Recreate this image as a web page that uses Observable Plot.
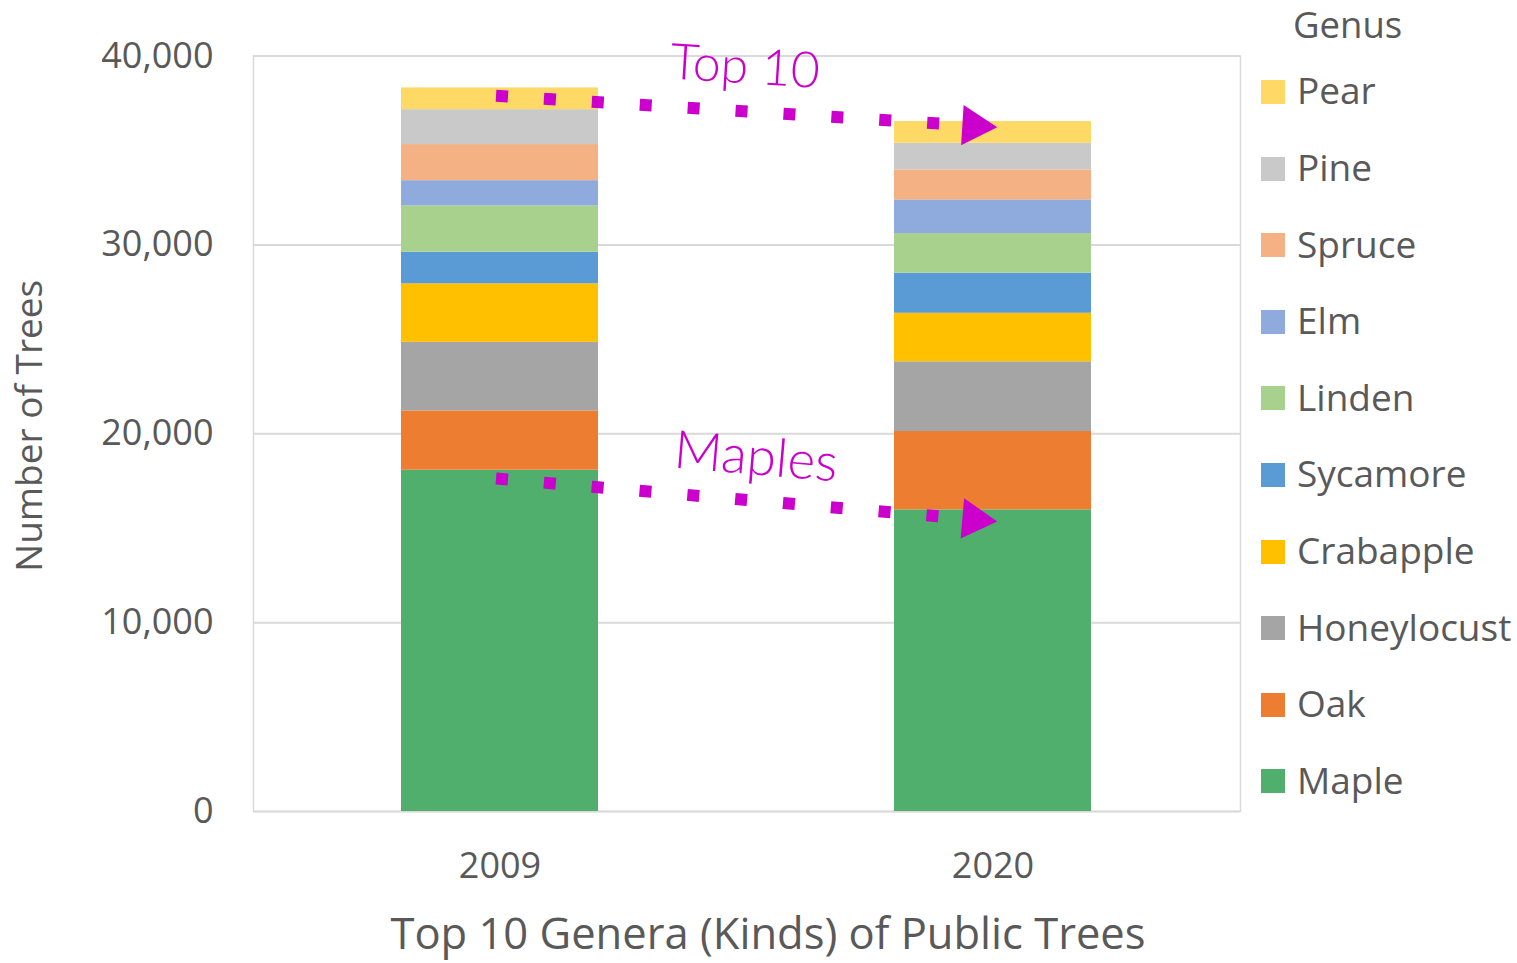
<!DOCTYPE html>
<html>
<head>
<meta charset="utf-8">
<script src="https://cdn.jsdelivr.net/npm/d3@7"></script>
<script src="https://cdn.jsdelivr.net/npm/@observablehq/plot@0.6"></script>
<style>
  body { margin: 0; background: #fff; }
  #wrap { position: relative; width: 1517px; height: 963px; font-family: "Open Sans", sans-serif; color: #595959; overflow: hidden; }
  #chart { position: absolute; left: 0; top: 0; }
  #legend-title { position: absolute; left: 1293px; top: 6px; font-size: 36.5px; line-height: 1; }
  #legend { position: absolute; left: 1261px; top: 53.7px; }
  .row { display: flex; align-items: center; height: 76.6px; }
  .sw { width: 24px; height: 24px; margin-right: 12px; }
  .lab { font-size: 37px; line-height: 1; position: relative; top: -2px; white-space: nowrap; }
  #caption { position: absolute; left: 768px; top: 907px; transform: translateX(-50%); font-size: 43.5px; line-height: 1.2; white-space: nowrap; }
</style>
</head>
<body>
<div id="wrap">
  <div id="chart"></div>
  <div id="legend-title">Genus</div>
  <div id="legend"></div>
  <div id="caption">Top 10 Genera (Kinds) of Public Trees</div>
</div>
<script>
// ---- data ----
const years = ["2009", "2020"];
const genera = ["Maple", "Oak", "Honeylocust", "Crabapple", "Sycamore", "Linden", "Elm", "Spruce", "Pine", "Pear"];
const trees2009 = [18070, 3140, 3630, 3100, 1670, 2450, 1340, 1910, 1850, 1150];
const trees2020 = [15970, 4150, 3690, 2570, 2120, 2100, 1780, 1590, 1410, 1150];
const colors = ["#50AF6D", "#ED7D31", "#A5A5A5", "#FFC000", "#5B9BD5", "#A9D18E", "#8FAADC", "#F4B183", "#C9C9C9", "#FFD966"];
const yTicks = [0, 10000, 20000, 30000, 40000];
const yTitle = "Number of Trees";

// annotation arrows (start value at 2009, end value at 2020) and labels
const arrowLabels = ["Top 10", "Maples"];
const arrowStart = [37880, 17610];
const arrowEnd = [36250, 15380];
const labelValue = [39400, 18740];

const table = [];
years.forEach((yr, j) => {
  const vals = j === 0 ? trees2009 : trees2020;
  genera.forEach((g, i) => table.push({year: yr, genus: g, count: vals[i]}));
});
const arrows = arrowLabels.map((label, i) => ({label, from: years[0], to: years[1], y1: arrowStart[i], y2: arrowEnd[i], ly: labelValue[i]}));

const magenta = "#CC00CC";

const plot = Plot.plot({
  width: 1517,
  height: 895,
  marginLeft: 253,
  marginRight: 277,
  marginTop: 55.5,
  marginBottom: 84,
  style: {fontFamily: "Open Sans, sans-serif", fontSize: "36px", color: "#595959", background: "transparent", overflow: "visible"},
  x: {domain: years, paddingInner: 0.6, paddingOuter: 0.3, label: null},
  y: {domain: [0, 40000], label: null},
  color: {domain: genera, range: colors},
  marks: [
    Plot.gridY(yTicks, {stroke: "#d9d9d9", strokeOpacity: 1, strokeWidth: 2}),
    Plot.frame({stroke: "#d9d9d9", strokeWidth: 1.5}),
    Plot.barY(table, {x: "year", y: "count", fill: "genus", order: genera}),
    Plot.axisY(yTicks, {tickSize: 0, tickPadding: 40, tickFormat: d3.format(","), label: null, fontSize: 36}),
    Plot.text([yTitle], {frameAnchor: "left", textAnchor: "middle", lineAnchor: "middle", text: d => d, rotate: -90, dx: -223, dy: -8, fontSize: 37, fill: "#595959"}),
    Plot.axisX({tickSize: 0, tickPadding: 41, label: null, fontSize: 36}),
    // dotted arrows
    Plot.arrow([arrows[0]], {x1: "from", x2: "to", y1: "y1", y2: "y2", stroke: magenta, strokeWidth: 12, strokeDasharray: "12,36", strokeLinecap: "butt", headLength: 0, insetStart: -4, insetEnd: 45}),
    Plot.arrow([arrows[1]], {x1: "from", x2: "to", y1: "y1", y2: "y2", stroke: magenta, strokeWidth: 12, strokeDasharray: "12,36", strokeLinecap: "butt", headLength: 0, insetStart: -4, insetEnd: 45}),
    Plot.dot([arrows[0]], {x: "to", y: "y2", symbol: "triangle", r: 15, fill: magenta, stroke: null, rotate: 93.6, dx: -19, dy: -1}),
    Plot.dot([arrows[1]], {x: "to", y: "y2", symbol: "triangle", r: 15, fill: magenta, stroke: null, rotate: 94.9, dx: -19, dy: -1.6}),
    Plot.text([arrows[0]], {y: "ly", text: "label", fill: magenta, fontSize: 50, fontFamily: "Lato", fontWeight: 300, rotate: 3.6, dx: -2}),
    Plot.text([arrows[1]], {y: "ly", text: "label", fill: magenta, fontSize: 53, fontFamily: "Lato", fontWeight: 300, rotate: 4.9, dx: 9})
  ]
});
document.getElementById("chart").appendChild(plot);

// legend (top to bottom: reverse of stacking order)
const legend = document.getElementById("legend");
genera.slice().reverse().forEach(g => {
  const row = document.createElement("div");
  row.className = "row";
  const sw = document.createElement("div");
  sw.className = "sw";
  sw.style.background = colors[genera.indexOf(g)];
  const lab = document.createElement("div");
  lab.className = "lab";
  lab.textContent = g;
  row.appendChild(sw);
  row.appendChild(lab);
  legend.appendChild(row);
});
</script>
</body>
</html>
